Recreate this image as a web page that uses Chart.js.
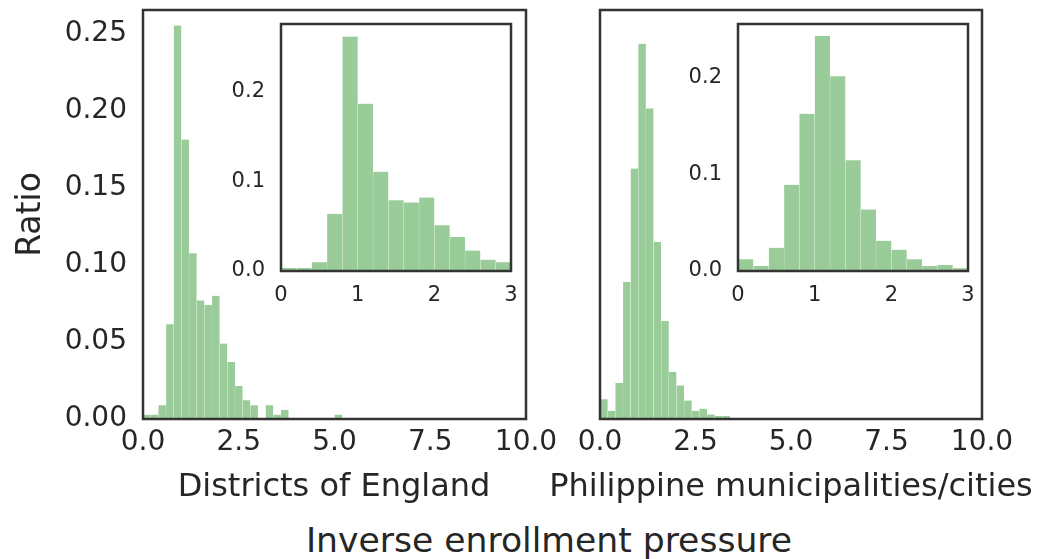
<!doctype html>
<html lang="en">
  <head>
    <meta charset="utf-8">
    <title>Inverse enrollment pressure</title>
    <script src="https://cdn.jsdelivr.net/npm/chart.js@4.4.0/dist/chart.umd.min.js"></script>
    <style>
      body { margin: 0; background: #fff; }
      #wrap { position: relative; width: 1050px; height: 559px; overflow: hidden; font-family: "DejaVu Sans", sans-serif; color: #262626; }
      canvas { position: absolute; }
      .lbl { position: absolute; text-align: center; white-space: nowrap; }
      #xlabel { left: 0; width: 1098px; top: 518px; font-size: 34.6px; line-height: 44px; }
      #engLabel { left: 134px; width: 400px; top: 466px; font-size: 32px; line-height: 38px; }
      #phLabel { left: 541px; width: 500px; top: 466px; font-size: 32px; line-height: 38px; }
    </style>
  </head>
  <body>
    <div id="wrap">
      <canvas id="engMain" width="560" height="504" style="left:0;top:0"></canvas>
      <canvas id="phMain" width="510" height="504" style="left:540px;top:0"></canvas>
      <canvas id="engInset" width="300" height="297" style="left:221px;top:14px"></canvas>
      <canvas id="phInset" width="300" height="297" style="left:678px;top:14px"></canvas>
      <div class="lbl" id="engLabel">Districts of England</div>
      <div class="lbl" id="phLabel">Philippine municipalities/cities</div>
      <div class="lbl" id="xlabel">Inverse enrollment pressure</div>
    </div>

    <script>
        // histogram bins are 0.2 wide, values are the bin centres
        var engBins = [0.1, 0.3, 0.5, 0.7, 0.9, 1.1, 1.3, 1.5, 1.7, 1.9, 2.1, 2.3, 2.5,
                       2.7, 2.9, 3.1, 3.3, 3.5, 3.7, 3.9, 4.1, 4.3, 4.5, 4.7, 4.9, 5.1]
        var engRatio = [0.0028, 0.0028, 0.009, 0.0615, 0.2555, 0.1815, 0.1076, 0.077, 0.074,
                        0.080, 0.049, 0.037, 0.0214, 0.0122, 0.009, 0, 0.009, 0.0028, 0.006,
                        0, 0, 0, 0, 0, 0, 0.0028]
        var phBins = [0.1, 0.3, 0.5, 0.7, 0.9, 1.1, 1.3, 1.5, 1.7, 1.9, 2.1, 2.3, 2.5,
                      2.7, 2.9, 3.1, 3.3]
        var phRatio = [0.0128, 0.0053, 0.0234, 0.089, 0.1627, 0.2437, 0.2017, 0.115, 0.0636,
                       0.0306, 0.0217, 0.012, 0.0053, 0.0067, 0.003, 0.002, 0.002]

        // insets: zoom on 0..3
        var insetBins = [0.1, 0.3, 0.5, 0.7, 0.9, 1.1, 1.3, 1.5, 1.7, 1.9, 2.1, 2.3, 2.5, 2.7, 2.9]
        var engInsetRatio = [0.0034, 0.0034, 0.0097, 0.064, 0.262, 0.187, 0.111, 0.079, 0.0766,
                             0.082, 0.051, 0.038, 0.0228, 0.0127, 0.0097]
        var phInsetRatio = [0.0122, 0.0052, 0.024, 0.0894, 0.163, 0.2436, 0.2018, 0.1148, 0.0637,
                            0.0313, 0.022, 0.0122, 0.0052, 0.0063, 0.0028]

        var mainTicksX = [0, 2.5, 5, 7.5, 10]
        var mainTicksY = [0, 0.05, 0.10, 0.15, 0.20, 0.25]

        var textColor = '#262626'
        var barColor = '#99cc99'
        Chart.defaults.font.family = '"DejaVu Sans", sans-serif'
        Chart.defaults.color = textColor

        // box round the plot area, like the matplotlib spines
        var frame = {
            id: 'frame',
            afterDraw: function(chart) {
                var a = chart.chartArea, ctx = chart.ctx
                ctx.save()
                ctx.strokeStyle = '#333333'
                ctx.lineWidth = 2.5
                ctx.strokeRect(a.left, a.top, a.right - a.left, a.bottom - a.top)
                ctx.restore()
            }
        }

        function points(bins, vals) {
            return bins.map(function(b, i) { return {x: b, y: vals[i]} })
        }

        function histChart(id, bins, vals, o) {
            var ctx = document.getElementById(id).getContext('2d')
            return new Chart(ctx, {
                type: 'bar',
                data: {
                    datasets: [{
                        data: points(bins, vals),
                        backgroundColor: barColor,
                        borderColor: 'rgba(255, 255, 255, 0.35)',
                        borderWidth: { left: 0.5, right: 0, top: 0, bottom: 0 },
                        barPercentage: 1,
                        categoryPercentage: 1
                    }]
                },
                options: {
                    responsive: false,
                    animation: false,
                    devicePixelRatio: 1,
                    layout: { padding: o.padding },
                    plugins: { legend: { display: false }, tooltip: { enabled: false } },
                    scales: {
                        x: {
                            type: 'linear',
                            min: 0,
                            max: o.xmax,
                            offset: false,
                            grid: { display: false, drawTicks: false },
                            border: { display: false },
                            afterBuildTicks: function(s) { s.ticks = o.xticks.map(function(v) { return {value: v} }) },
                            afterFit: function(s) { s.height = o.xh; s.paddingLeft = 0; s.paddingRight = 0 },
                            ticks: {
                                font: { size: o.tickSize },
                                padding: o.xpad,
                                maxRotation: 0,
                                autoSkip: false,
                                callback: function(v) { return v.toFixed(o.xdec) }
                            }
                        },
                        y: {
                            min: 0,
                            max: o.ymax,
                            grid: { display: false, drawTicks: false },
                            border: { display: false },
                            afterBuildTicks: function(s) { s.ticks = o.yticks.map(function(v) { return {value: v} }) },
                            afterFit: function(s) { s.width = o.yw; s.paddingTop = 0; s.paddingBottom = 0 },
                            ticks: {
                                display: o.yshow,
                                font: { size: o.tickSize },
                                padding: 16,
                                callback: function(v) { return v.toFixed(o.ydec) }
                            },
                            title: {
                                display: !!o.ytitle,
                                text: o.ytitle,
                                font: { size: 33 },
                                padding: { top: 12, bottom: 0 }
                            }
                        }
                    }
                },
                plugins: [frame]
            })
        }

        histChart('engMain', engBins, engRatio, {
            padding: { top: 10, right: 34, left: 0, bottom: 0 },
            xmax: 10, ymax: 0.2656, xticks: mainTicksX, yticks: mainTicksY,
            xdec: 1, ydec: 2, xh: 85, yw: 143, xpad: 7, tickSize: 28, yshow: true,
            ytitle: 'Ratio'
        })
        histChart('phMain', phBins, phRatio, {
            padding: { top: 10, right: 68, left: 0, bottom: 0 },
            xmax: 10, ymax: 0.2656, xticks: mainTicksX, yticks: mainTicksY,
            xdec: 1, ydec: 2, xh: 85, yw: 60, xpad: 7, tickSize: 28, yshow: false
        })
        histChart('engInset', insetBins, engInsetRatio, {
            padding: { top: 10, right: 10, left: 0, bottom: 0 },
            xmax: 3, ymax: 0.276, xticks: [0, 1, 2, 3], yticks: [0, 0.1, 0.2],
            xdec: 0, ydec: 1, xh: 40, yw: 60, xpad: 12, tickSize: 21, yshow: true
        })
        histChart('phInset', insetBins, phInsetRatio, {
            padding: { top: 10, right: 10, left: 0, bottom: 0 },
            xmax: 3, ymax: 0.256, xticks: [0, 1, 2, 3], yticks: [0, 0.1, 0.2],
            xdec: 0, ydec: 1, xh: 40, yw: 60, xpad: 12, tickSize: 21, yshow: true
        })
    </script>
  </body>
</html>
